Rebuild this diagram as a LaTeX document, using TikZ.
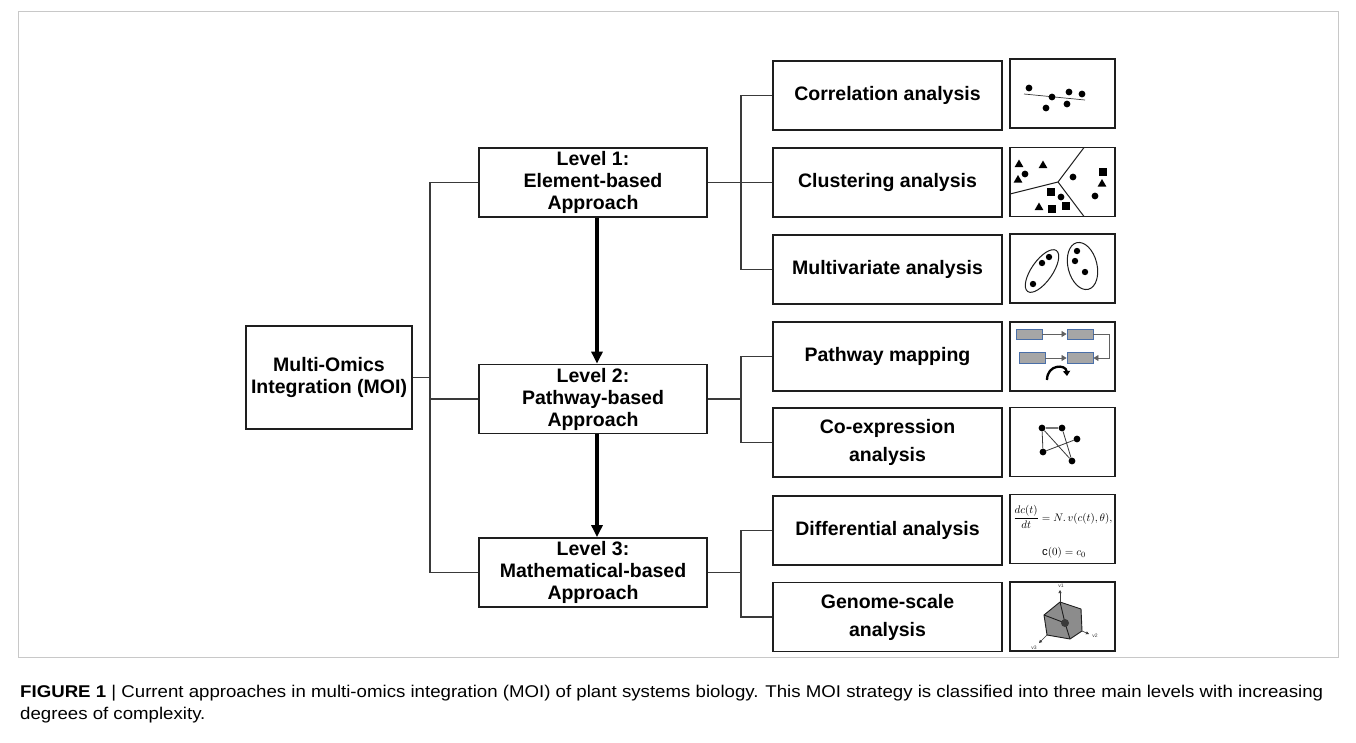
\documentclass[tikz,border=0pt]{standalone}
\usepackage{fontspec}
\usepackage{amsmath}
\setmainfont{Liberation Sans}
\usetikzlibrary{arrows.meta,calc,shapes.geometric}
\definecolor{boxc}{HTML}{1E1E1E}
\definecolor{connc}{HTML}{3A3A3A}
\definecolor{framec}{HTML}{C8C8C8}
\definecolor{pfill}{HTML}{A6A6A6}
\definecolor{pblue}{HTML}{4A6FA8}
\definecolor{gfill}{HTML}{8C8C8C}
\ExplSyntaxOn
\box_new:N \l_my_cap_box
\fp_new:N \g_my_scale_fp
\NewDocumentCommand \fitwd { m m }
 {
  \hbox_set:Nn \l_my_cap_box {#2}
  \fp_gset:Nn \g_my_scale_fp { \dim_to_fp:n {#1} / \dim_to_fp:n { \box_wd:N \l_my_cap_box } }
  \box_scale:Nnn \l_my_cap_box { \fp_use:N \g_my_scale_fp } { 1 }
  \box_use_drop:N \l_my_cap_box
 }
\NewDocumentCommand \usescale { m }
 {
  \hbox_set:Nn \l_my_cap_box {#1}
  \box_scale:Nnn \l_my_cap_box { \fp_use:N \g_my_scale_fp } { 1 }
  \box_use_drop:N \l_my_cap_box
 }
\ExplSyntaxOff
\tikzset{
  bx/.style={draw=boxc, line width=1.8pt, fill=white, minimum width=229pt, minimum height=69pt,
    inner sep=0pt, align=center, font=\bfseries\fontsize{19.5}{21.5}\selectfont},
  lvl/.style={bx, minimum width=228pt, font=\bfseries\fontsize{19.5}{22}\selectfont},
  moi/.style={bx, minimum width=166pt, minimum height=103pt},
  ibx/.style={draw=boxc, line width=1.4pt, minimum width=105pt, minimum height=69pt, inner sep=0pt},
  conn/.style={draw=connc, line width=1.3pt},
  bigarrow/.style={draw=black, line width=3.2pt, -{Triangle[width=11pt,length=12pt]}},
  dot/.style={circle, fill=black, inner sep=0pt, minimum size=6.8pt},
  tri/.style={regular polygon, regular polygon sides=3, fill=black, inner sep=0pt, minimum size=10pt},
  sq/.style={rectangle, fill=black, inner sep=0pt, minimum width=8pt, minimum height=7.5pt},
  prect/.style={rectangle, draw=pblue, fill=pfill, line width=0.9pt, inner sep=0pt, minimum width=26pt, minimum height=10pt},
  parr/.style={draw=connc!80, line width=0.8pt, -{Triangle[width=6pt,length=5pt]}},
  cedge/.style={draw=connc, line width=0.8pt},
  tinylab/.style={font=\fontsize{5}{5}\selectfont, text=connc, inner sep=0pt},
  eqn/.style={inner sep=0pt, font=\fontsize{11.3}{13}\selectfont},
}
\begin{document}
\begin{tikzpicture}[x=1pt,y=-1pt]
\useasboundingbox[fill=white] (0,0) rectangle (1356,742);
% outer frame
\draw[draw=framec, line width=1pt] (18,11) rectangle (1338,657);

% main nodes
\node[moi] (MOI) at (329,377.5) {Multi-Omics\\Integration (MOI)};
\node[lvl] (L1) at (593,182.5) {Level 1:\\Element-based\\Approach};
\node[lvl] (L2) at (593,399) {Level 2:\\Pathway-based\\Approach};
\node[lvl] (L3) at (593,572.5) {Level 3:\\Mathematical-based\\Approach};

\node[bx] (C1) at (887.5,95.5) {Correlation analysis};
\node[bx] (C2) at (887.5,182.5) {Clustering analysis};
\node[bx] (C3) at (887.5,269.5) {Multivariate analysis};
\node[bx] (P1) at (887.5,356.5) {Pathway mapping};
\node[bx] (P2) at (887.5,442.5) {Co-expression\\[6.5pt]analysis};
\node[bx] (M1) at (887.5,530.5) {Differential analysis};
\node[bx] (M2) at (887.5,617) {Genome-scale\\[6.5pt]analysis};

% icon boxes
\node[ibx] (I1) at (1062.5,93.5) {};
\node[ibx] (I2) at (1062.5,182) {};
\node[ibx] (I3) at (1062.5,268.5) {};
\node[ibx] (I4) at (1062.5,356.5) {};
\node[ibx] (I5) at (1062.5,442) {};
\node[ibx] (I6) at (1062.5,529) {};
\node[ibx] (I7) at (1062.5,616.5) {};

% connectors
\coordinate (sp) at (430,0);
\coordinate (bk) at (741,0);
\coordinate (ax) at (597,0);
\draw[conn] (L1.west) -- (L1.west -| sp) -- (L3.west -| sp) -- (L3.west);
\draw[conn] (L2.west) -- (L2.west -| sp);
\draw[conn] (MOI.east) -- (MOI.east -| sp);

\draw[conn] (C1.west) -- (C1.west -| bk) -- (C3.west -| bk) -- (C3.west);
\draw[conn] (L1.east) -- (C2.west);
\draw[conn] (P1.west) -- (P1.west -| bk) -- (P2.west -| bk) -- (P2.west);
\draw[conn] (L2.east) -- (L2.east -| bk);
\draw[conn] (M1.west) -- (M1.west -| bk) -- (M2.west -| bk) -- (M2.west);
\draw[conn] (L3.east) -- (L3.east -| bk);

\draw[bigarrow] (L1.south -| ax) -- (L2.north -| ax);
\draw[bigarrow] (L2.south -| ax) -- (L3.north -| ax);

% icon 1: correlation
\draw[draw=connc, line width=0.7pt] (1024,94) -- (1085,100);
\foreach \p in {(1029,88),(1052,97),(1069,92),(1082,94),(1046,108),(1067,104)}
  \fill \p circle (3.4);

% icon 2: clustering
\draw[draw=boxc, line width=1pt] (1010,194) -- (1058,182) -- (1084,147.5);
\draw[draw=boxc, line width=1pt] (1058,182) -- (1084,216.5);
\node[tri] at (1019,164.5) {};
\node[tri] at (1043,165.5) {};
\node[tri] at (1018,180) {};
\node[tri] at (1039,207.5) {};
\node[tri] at (1102,184) {};
\fill (1025,174) circle (3.4);
\fill (1061,197) circle (3.4);
\fill (1073,177) circle (3.4);
\fill (1095,196) circle (3.4);
\node[sq] at (1051,192) {};
\node[sq] at (1066,206) {};
\node[sq] at (1052,209) {};
\node[sq] at (1103,172) {};

% icon 3: multivariate
\draw[draw=boxc, line width=1pt, rotate around={55:(1042,271)}] (1042,271) ellipse [x radius=25, y radius=10.5];
\draw[draw=boxc, line width=1pt, rotate around={104:(1082.5,266)}] (1082.5,266) ellipse [x radius=24, y radius=14.5];
\foreach \p in {(1033,284),(1042,263),(1049,257),(1077,251),(1075,261),(1085,272)}
  \fill \p circle (3.2);

% icon 4: pathway mapping
\node[prect] (pr1) at (1029,334) {};
\node[prect] (pr2) at (1080,334) {};
\node[prect, minimum height=11pt] (pr3) at (1032,358) {};
\node[prect, minimum height=11pt] (pr4) at (1080,358) {};
\draw[parr] (pr1) -- (pr2);
\draw[parr] (pr3) -- (pr4);
\draw[parr] (pr2.east) -- ++(16,0) |- (pr4.east);
\draw[line width=2.3pt, -{Triangle[width=7pt,length=5pt]}] (1047,380) .. controls (1047,364) and (1066,364) .. (1067,376);

% icon 5: co-expression
\node[dot] (ca) at (1042,428) {};
\node[dot] (cb) at (1062,428) {};
\node[dot] (cc) at (1077,439) {};
\node[dot] (cd) at (1043,452) {};
\node[dot] (ce) at (1072,461) {};
\draw[draw=connc!70, line width=1.4pt] (ca) -- (cb);
\draw[cedge] (ca) -- (cd);
\draw[cedge] (ca) -- (ce);
\draw[cedge] (cb) -- (ce);
\draw[cedge] (cd) -- (cc);

% icon 6: equation
\node[eqn] (eq1) at (1063,517) {$\dfrac{dc(t)}{dt} = N.\,v(c(t),\theta),$};
\node[eqn] (eq2) at (1064,553) {$\mathrm{c}(0) = c_0$};

% icon 7: genome-scale
\coordinate (gt) at (1060,602);
\coordinate (gur) at (1081,609);
\coordinate (glr) at (1082,631);
\coordinate (gb) at (1070,639);
\coordinate (gll) at (1047,635);
\coordinate (gul) at (1044,615);
\coordinate (gc) at (1065,623);
\draw[fill=gfill, draw=boxc, line width=0.9pt, line join=round] (gt) -- (gur) -- (glr) -- (gb) -- (gll) -- (gul) -- cycle;
\draw[draw=boxc, line width=0.9pt] (gt) -- (gc) -- (gb);
\draw[draw=boxc, line width=0.9pt] (gul) -- (gc);
\fill[connc] (gc) circle (4);
\draw[draw=connc, line width=0.6pt, -{Triangle[width=3pt,length=3pt]}] (gt) -- (1060,590);
\draw[draw=connc, line width=0.6pt, -{Triangle[width=3pt,length=3pt]}] (glr) -- (1089,634);
\draw[draw=connc, line width=0.6pt, -{Triangle[width=3pt,length=3pt]}] (gll) -- (1039,643);
\node[tinylab] (v1) at (1061,586) {v1};
\node[tinylab] (v2) at (1095,635.5) {v2};
\node[tinylab] (v3) at (1034,648) {v3};

% caption
\node[anchor=base west, inner sep=0pt, font=\fontsize{17}{20}\selectfont] (cap1) at (20,697)
  {\fitwd{1303pt}{\textbf{FIGURE 1} | Current approaches in multi-omics integration (MOI) of plant systems biology. This MOI strategy is classified into three main levels with increasing}};
\node[anchor=base west, inner sep=0pt, font=\fontsize{17}{20}\selectfont] (cap2) at (20,719)
  {\usescale{degrees of complexity.}};
\end{tikzpicture}
\end{document}
